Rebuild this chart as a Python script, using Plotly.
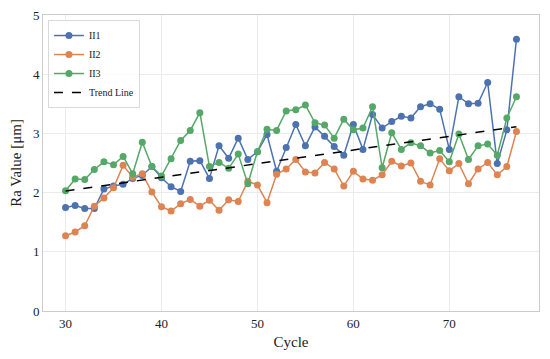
import numpy as np
import plotly.graph_objects as go

cycles = list(range(30, 78))

ii1 = [1.75, 1.78, 1.73, 1.73, 2.06, 2.11, 2.14, 2.24, 2.29, 2.44, 2.25, 2.10, 2.02,
       2.53, 2.54, 2.24, 2.79, 2.58, 2.92, 2.56, 2.69, 2.98, 2.36, 2.76, 3.15, 2.79,
       3.11, 2.95, 2.78, 2.63, 3.15, 2.73, 3.32, 3.09, 3.20, 3.29, 3.26, 3.45, 3.50,
       3.41, 2.73, 3.62, 3.50, 3.51, 3.86, 2.49, 3.06, 4.59]
ii2 = [1.27, 1.335, 1.44, 1.77, 1.91, 2.08, 2.46, 2.26, 2.32, 2.01, 1.76, 1.69, 1.81,
       1.885, 1.77, 1.87, 1.70, 1.88, 1.85, 2.19, 2.13, 1.83, 2.31, 2.40, 2.56, 2.35,
       2.33, 2.51, 2.40, 2.11, 2.36, 2.23, 2.21, 2.30, 2.53, 2.45, 2.50, 2.19, 2.13,
       2.57, 2.37, 2.49, 2.15, 2.40, 2.51, 2.30, 2.44, 3.03]
ii3 = [2.03, 2.23, 2.22, 2.39, 2.52, 2.47, 2.61, 2.32, 2.85, 2.44, 2.28, 2.57, 2.88,
       3.05, 3.35, 2.44, 2.51, 2.41, 2.65, 2.15, 2.69, 3.07, 3.05, 3.38, 3.40, 3.48,
       3.18, 3.14, 2.92, 3.24, 3.06, 3.09, 3.45, 2.42, 3.01, 2.73, 2.84, 2.79, 2.67,
       2.71, 2.52, 2.99, 2.56, 2.79, 2.82, 2.63, 3.26, 3.62]

series_names = ["II1", "II2", "II3"]
series_colors = ["#4C72B0", "#DD8452", "#55A868"]

x = np.array(cycles, dtype=float)
allx = np.concatenate([x, x, x])
ally = np.concatenate([ii1, ii2, ii3])
slope, intercept = np.polyfit(allx, ally, 1)
trend = slope * x + intercept

font_family = "Liberation Serif"

fig = go.Figure()
for name, vals, col in zip(series_names, [ii1, ii2, ii3], series_colors):
    fig.add_trace(go.Scatter(
        x=cycles, y=vals, mode="lines+markers", name=name,
        line=dict(color=col, width=1.5),
        marker=dict(color=col, size=7),
    ))
fig.add_trace(go.Scatter(
    x=cycles, y=trend, mode="lines", name="Trend Line",
    line=dict(color="black", width=1.5, dash="dash"),
))

# page body has an 8px default margin; compensate so the plot lands where it should
fig.update_layout(
    width=542, height=351,
    margin=dict(l=35, r=11, t=7, b=48),
    paper_bgcolor="white", plot_bgcolor="white",
    font=dict(family=font_family, size=13, color="#333333"),
    showlegend=True,
    legend=dict(
        x=0.01, y=0.983, xanchor="left", yanchor="top",
        bgcolor="rgba(255,255,255,0.85)", bordercolor="#d9d9d9", borderwidth=1,
        font=dict(family=font_family, size=10, color="#222222"),
        tracegroupgap=0, itemwidth=30,
    ),
)
fig.update_xaxes(
    range=[27.65, 79.35], tickvals=[30, 40, 50, 60, 70],
    showgrid=True, gridcolor="#ebebeb", gridwidth=1,
    showline=True, linecolor="#cccccc", linewidth=1, mirror=True,
    zeroline=False, ticks="", automargin=True,
    title=dict(text="Cycle", font=dict(family=font_family, size=15, color="#222222"), standoff=6),
    tickfont=dict(family=font_family, size=13, color="#222222"),
)
fig.update_yaxes(
    range=[0, 5], tickvals=[0, 1, 2, 3, 4, 5],
    showgrid=True, gridcolor="#ebebeb", gridwidth=1,
    showline=True, linecolor="#cccccc", linewidth=1, mirror=True,
    zeroline=False, ticks="", ticklabeloverflow="allow", automargin=False,
    title=dict(text="Ra Value [μm]", font=dict(family=font_family, size=15, color="#222222")),
    tickfont=dict(family=font_family, size=13, color="#222222"),
)

fig.write_html("out.html")
